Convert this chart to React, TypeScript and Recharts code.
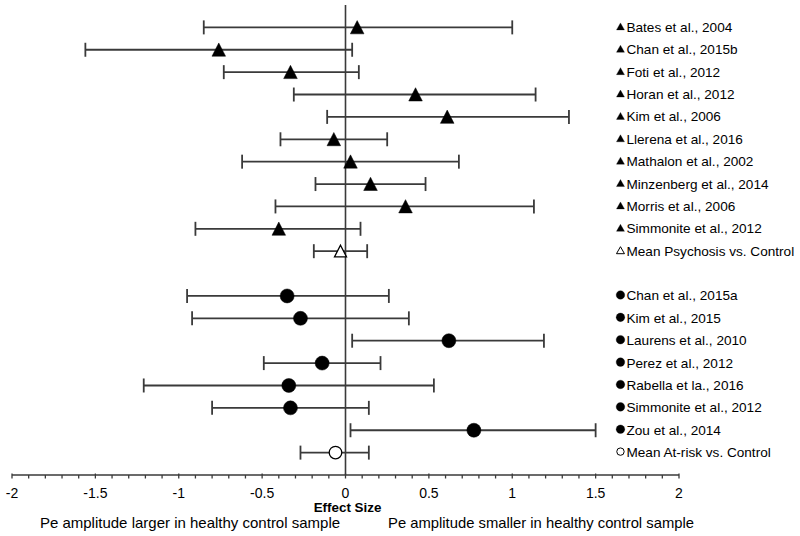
import {
  ScatterChart,
  Scatter,
  XAxis,
  YAxis,
  ErrorBar,
  ReferenceLine,
} from "recharts";

const psychosisStudies = [
  "Bates et al., 2004",
  "Chan et al., 2015b",
  "Foti et al., 2012",
  "Horan et al., 2012",
  "Kim et al., 2006",
  "Llerena et al., 2016",
  "Mathalon et al., 2002",
  "Minzenberg et al., 2014",
  "Morris et al., 2006",
  "Simmonite et al., 2012",
  "Mean Psychosis vs. Control",
];
const psychosisEffect = [0.07, -0.76, -0.33, 0.42, 0.61, -0.07, 0.03, 0.15, 0.36, -0.4, -0.03];
const psychosisLower = [-0.85, -1.56, -0.73, -0.31, -0.11, -0.39, -0.62, -0.18, -0.42, -0.9, -0.19];
const psychosisUpper = [1.0, 0.04, 0.08, 1.14, 1.34, 0.25, 0.68, 0.48, 1.13, 0.09, 0.13];

const atRiskStudies = [
  "Chan et al., 2015a",
  "Kim et al., 2015",
  "Laurens et al., 2010",
  "Perez et al., 2012",
  "Rabella et la., 2016",
  "Simmonite et al., 2012",
  "Zou et al., 2014",
  "Mean At-risk vs. Control",
];
const atRiskEffect = [-0.35, -0.27, 0.62, -0.14, -0.34, -0.33, 0.77, -0.06];
const atRiskLower = [-0.95, -0.92, 0.04, -0.49, -1.21, -0.8, 0.03, -0.27];
const atRiskUpper = [0.26, 0.38, 1.19, 0.21, 0.53, 0.14, 1.5, 0.14];

const xTicks = [-2, -1.5, -1, -0.5, 0, 0.5, 1, 1.5, 2];

const FONT = "'Liberation Sans', Arial, sans-serif";
const LINE = "#3a3a3a";
const LABEL_X = 1.625;
const AT_RISK_START = psychosisStudies.length + 2;

const build = (names: string[], est: number[], lo: number[], hi: number[], start: number, kind: string) =>
  names.map((name, i) => ({
    name,
    x: est[i],
    row: start + i,
    err: [est[i] - lo[i], hi[i] - est[i]],
    kind,
    mean: i === names.length - 1,
  }));

const psychosisData = build(psychosisStudies, psychosisEffect, psychosisLower, psychosisUpper, 1, "tri");
const atRiskData = build(atRiskStudies, atRiskEffect, atRiskLower, atRiskUpper, AT_RISK_START, "dot");
const legendData = [...psychosisData, ...atRiskData].map((d) => ({ ...d, x: LABEL_X }));

// minor ticks every 0.1, labels only on the 0.5 steps
const minorTicks: number[] = [];
for (let i = -20; i <= 20; i++) minorTicks.push(i / 10);

const Marker = (props: any) => {
  const { cx, cy, payload } = props;
  if (cx == null || cy == null) return null;
  const fill = payload.mean ? "#fff" : "#000";
  if (payload.kind === "tri") {
    const s = payload.mean ? 6 : 6.8;
    return (
      <path
        d={`M${cx},${cy - s} L${cx + s},${cy + s * 0.95} L${cx - s},${cy + s * 0.95} Z`}
        fill={fill}
        stroke="#000"
        strokeWidth={payload.mean ? 1.3 : 0.5}
      />
    );
  }
  return (
    <circle cx={cx} cy={cy} r={payload.mean ? 6.3 : 7} fill={fill} stroke="#000" strokeWidth={payload.mean ? 1.3 : 0.5} />
  );
};

const LegendEntry = (props: any) => {
  const { cx, cy, payload } = props;
  if (cx == null || cy == null) return null;
  const fill = payload.mean ? "#fff" : "#000";
  const mx = cx + 4;
  return (
    <g>
      {payload.kind === "tri" ? (
        <path
          d={`M${mx},${cy - 4.5} L${mx + 4},${cy + 2.5} L${mx - 4},${cy + 2.5} Z`}
          fill={fill}
          stroke="#000"
          strokeWidth={payload.mean ? 1 : 0.3}
        />
      ) : (
        <circle cx={mx} cy={cy - 1} r={payload.mean ? 3.7 : 4.3} fill={fill} stroke="#000" strokeWidth={payload.mean ? 1 : 0.3} />
      )}
      <text x={cx + 10} y={cy + 4.5} fontFamily={FONT} fontSize={13.6} fill="#000">
        {payload.name}
      </text>
    </g>
  );
};

const AxisTick = (props: any) => {
  const { x, y, payload } = props;
  const v = payload.value;
  const major = Math.abs(v * 2 - Math.round(v * 2)) < 1e-6;
  return (
    <g>
      <line x1={x} x2={x} y1={y - (major ? 1.5 : 0)} y2={y + 3.5} stroke={LINE} strokeWidth={1.3} />
      {major && (
        <text x={x} y={y + 23} textAnchor="middle" fontFamily={FONT} fontSize={14} fill="#000">
          {xTicks.includes(Math.round(v * 2) / 2) ? String(Math.round(v * 2) / 2) : ""}
        </text>
      )}
    </g>
  );
};

const BottomLabels = (props: any) => {
  const { viewBox } = props;
  const x0 = viewBox.x;
  const y0 = viewBox.y;
  const mid = x0 + viewBox.width / 2;
  return (
    <g fontFamily={FONT} fill="#000">
      <text x={mid + 2} y={y0 + 37} textAnchor="middle" fontSize={13.4} fontWeight="bold">
        Effect Size
      </text>
      <text x={x0 + 178} y={y0 + 53} textAnchor="middle" fontSize={15}>
        Pe amplitude larger in healthy control sample
      </text>
      <text x={x0 + 529} y={y0 + 53} textAnchor="middle" fontSize={14.8}>
        Pe amplitude smaller in healthy control sample
      </text>
    </g>
  );
};

export default function App() {
  return (
    <div style={{ position: "absolute", left: 0, top: 0, background: "#fff" }}>
      <ScatterChart width={800} height={536} margin={{ top: 5, right: 121, bottom: 41, left: 12 }}>
        <XAxis
          type="number"
          dataKey="x"
          domain={[-2, 2]}
          ticks={minorTicks}
          interval={0}
          height={20}
          axisLine={{ stroke: LINE, strokeWidth: 1.5 }}
          tickLine={false}
          tickSize={0}
          tickMargin={0}
          tick={<AxisTick />}
          label={{ content: <BottomLabels /> }}
        />
        <YAxis type="number" dataKey="row" domain={[0, 21]} reversed hide />
        <ReferenceLine x={0} stroke={LINE} strokeWidth={1.6} />
        <Scatter data={psychosisData} shape={<Marker />} isAnimationActive={false}>
          <ErrorBar dataKey="err" direction="x" width={7} stroke={LINE} strokeWidth={1.8} />
        </Scatter>
        <Scatter data={atRiskData} shape={<Marker />} isAnimationActive={false}>
          <ErrorBar dataKey="err" direction="x" width={7} stroke={LINE} strokeWidth={1.8} />
        </Scatter>
        <Scatter data={legendData} shape={<LegendEntry />} isAnimationActive={false} />
      </ScatterChart>
    </div>
  );
}
